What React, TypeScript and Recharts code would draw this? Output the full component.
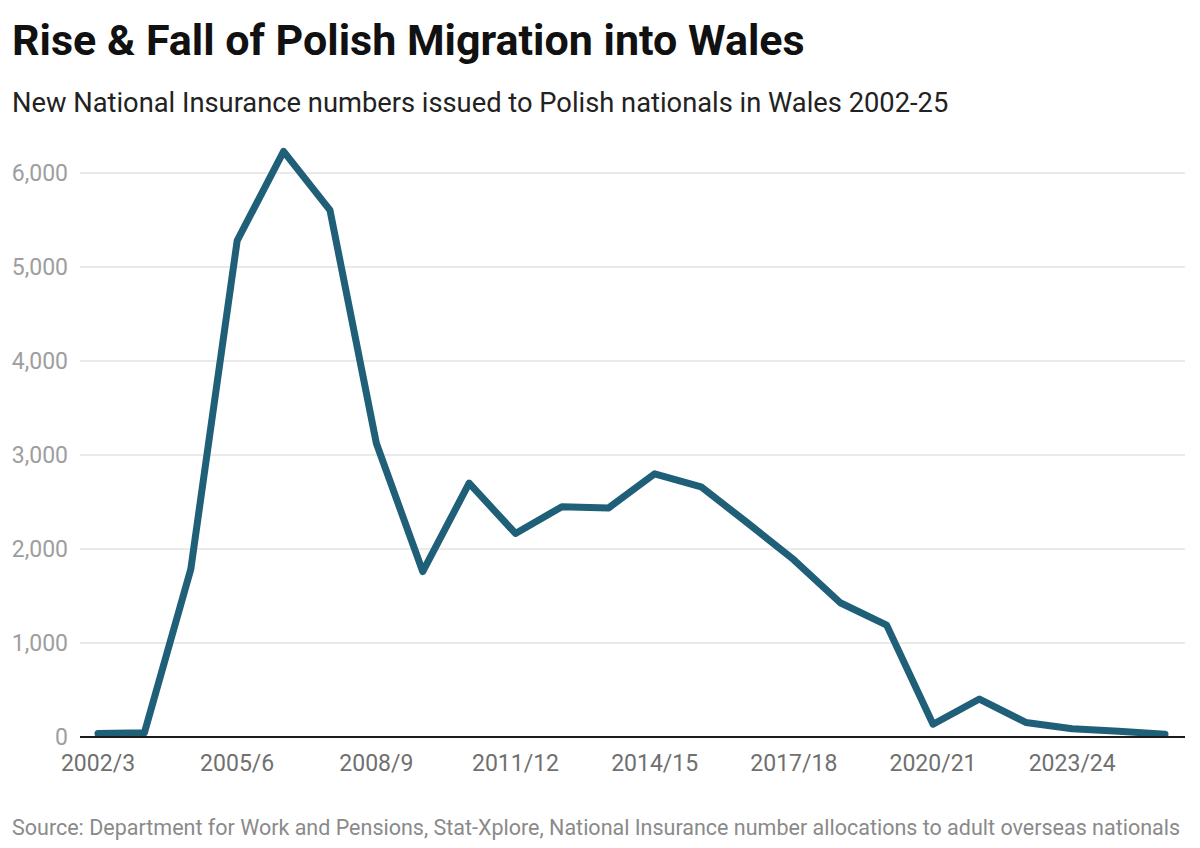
import { LineChart, Line, XAxis, YAxis, CartesianGrid } from 'recharts';

// financial years of registration
const years = [
  '2002/3', '2003/4', '2004/5', '2005/6', '2006/7', '2007/8', '2008/9', '2009/10',
  '2010/11', '2011/12', '2012/13', '2013/14', '2014/15', '2015/16', '2016/17', '2017/18',
  '2018/19', '2019/20', '2020/21', '2021/22', '2022/23', '2023/24', '2024/25', '2025/26',
];

// new NINo registrations, Polish nationals, Wales
const registrations = [
  36, 46, 1785, 5280, 6230, 5605, 3125, 1760,
  2700, 2165, 2450, 2435, 2800, 2662, 2278, 1885,
  1428, 1190, 136, 404, 155, 88, 62, 29,
];

const xTicks = ['2002/3', '2005/6', '2008/9', '2011/12', '2014/15', '2017/18', '2020/21', '2023/24'];
const yTicks = [0, 1000, 2000, 3000, 4000, 5000, 6000];

const data = years.map((year, i) => ({ year, value: registrations[i] }));

const font = 'Roboto, "Noto Sans", sans-serif';

export default function App() {
  return (
    <div
      style={{
        position: 'fixed',
        left: 0,
        top: 0,
        width: 1200,
        height: 848,
        background: '#fff',
        fontFamily: font,
        overflow: 'hidden',
      }}
    >
      <div
        style={{
          position: 'absolute',
          left: 12,
          top: 15,
          fontSize: 43,
          fontWeight: 700,
          color: '#111',
          lineHeight: '50px',
          whiteSpace: 'nowrap',
        }}
      >
        Rise &amp; Fall of Polish Migration into Wales
      </div>
      <div
        style={{
          position: 'absolute',
          left: 12,
          top: 87,
          fontSize: 27.3,
          color: '#222',
          lineHeight: '32px',
          whiteSpace: 'nowrap',
        }}
      >
        New National Insurance numbers issued to Polish nationals in Wales 2002-25
      </div>

      <div style={{ position: 'absolute', left: 0, top: 0 }}>
        <LineChart
          width={1200}
          height={848}
          data={data}
          margin={{ top: 135.4, right: 15, bottom: 0, left: 0 }}
        >
          <CartesianGrid
            horizontal
            vertical={false}
            horizontalValues={yTicks}
            stroke="#e3e3e3"
            strokeWidth={1.5}
          />
          <XAxis
            dataKey="year"
            ticks={xTicks}
            interval={0}
            padding={{ left: 18, right: 20 }}
            tickLine={false}
            axisLine={{ stroke: '#1a1a1a', strokeWidth: 2 }}
            tick={{ fill: '#707070', fontSize: 23, fontFamily: font }}
            tickMargin={12}
            height={111}
          />
          <YAxis
            domain={[0, 6400]}
            ticks={yTicks}
            width={80}
            tickLine={false}
            axisLine={false}
            tickFormatter={(v: number) => v.toLocaleString('en-US')}
            tick={{ fill: '#9e9e9e', fontSize: 23, fontFamily: font }}
            tickMargin={6}
          />
          <Line
            type="linear"
            dataKey="value"
            stroke="#1f5f78"
            strokeWidth={7}
            strokeLinejoin="round"
            strokeLinecap="round"
            dot={false}
            activeDot={false}
            isAnimationActive={false}
          />
        </LineChart>
      </div>

      <div
        style={{
          position: 'absolute',
          left: 12,
          top: 815,
          fontSize: 21.5,
          color: '#8a8a8a',
          lineHeight: '26px',
          whiteSpace: 'nowrap',
        }}
      >
        Source: Department for Work and Pensions, Stat-Xplore, National Insurance number allocations to adult overseas nationals
      </div>
    </div>
  );
}
